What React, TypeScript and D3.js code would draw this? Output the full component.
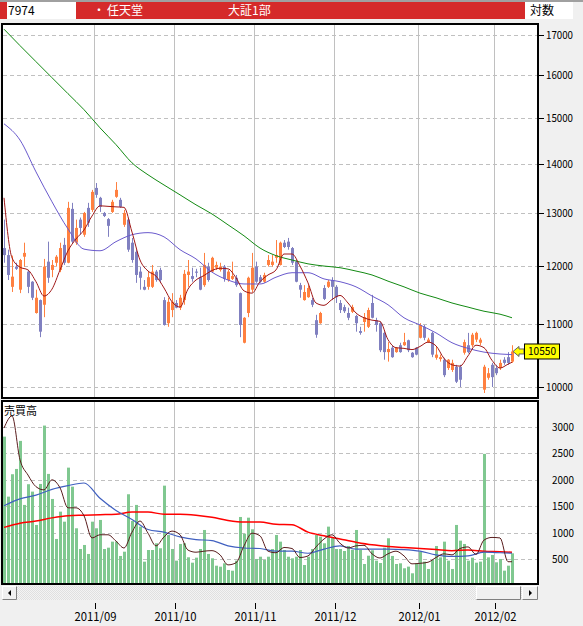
import React from "react";
import * as d3 from "d3";

// 7974 任天堂 日足 2011/08/01 - 2012/02/07
const opens = [
  12330, 12200, 11630, 11990, 11580, 12170, 11900, 11720, 11180, 11400,
  11320, 12080, 11930, 12060, 11930, 12390, 12060, 13080, 12430, 12870,
  12580, 13100, 13060, 13500, 13300, 13000, 12880, 13020, 13320, 13260,
  12770, 12870, 12430, 12260, 11900, 11630, 11630, 11630, 11900, 11930,
  11400, 11010, 11230, 11350, 11270, 11400, 11840, 11820, 11900, 11800,
  11660, 11990, 11900, 11970, 11930, 11990, 11750, 11770, 11790, 11520,
  10690, 11180, 11580, 11990, 11800, 11720, 12020, 12020, 12150, 12020,
  12430, 12450, 12330, 12080, 11660, 11400, 11450, 11400, 11060, 11010,
  11610, 11630, 11750, 11630, 11350, 11280, 11180, 11200, 11130, 10880,
  11030, 10950, 11350, 11060, 11010, 10850, 10540, 10610, 10540, 10650,
  10650, 10730, 10530, 10610, 10770, 10950, 10700, 10850, 10450, 10430,
  10420, 10290, 10260, 10310, 10310, 10530, 10650, 10650, 10740, 10690,
  9960, 10140, 10340, 10290, 10290, 10420, 10460, 10390,
];
const highs = [
  12870, 12300, 12190, 12060, 12130, 12430, 11930, 11730, 11580, 11410,
  12130, 12450, 12110, 12200, 12430, 12520, 13220, 13200, 12870, 12910,
  13020, 13200, 13460, 13600, 13320, 13020, 12900, 13260, 13620, 13300,
  13060, 12880, 12520, 12300, 11990, 11750, 11900, 12020, 11930, 11970,
  11450, 11440, 11520, 11400, 11490, 11930, 12110, 11970, 11950, 11970,
  12240, 12060, 12170, 12080, 12060, 12020, 11930, 12080, 11840, 11530,
  11110, 11810, 12240, 12080, 11840, 11880, 12200, 12200, 12480, 12450,
  12480, 12520, 12350, 12110, 11700, 11660, 11660, 11440, 11150, 11200,
  11660, 11750, 11800, 11660, 11400, 11320, 11270, 11320, 11150, 10950,
  11180, 11270, 11490, 11100, 11030, 10870, 10700, 10640, 10620, 10690,
  10850, 10740, 10540, 10620, 11010, 10980, 10770, 10870, 10620, 10500,
  10450, 10430, 10420, 10340, 10340, 10740, 10850, 10850, 10870, 10770,
  10340, 10290, 10370, 10340, 10420, 10460, 10540, 10650,
];
const lows = [
  12060, 11750, 11540, 11930, 11520, 11990, 11520, 11400, 11170, 10780,
  11110, 11700, 11800, 11990, 11890, 12020, 12050, 12420, 12390, 12580,
  12540, 12730, 13020, 13300, 13020, 12920, 12540, 13000, 13300, 13100,
  12730, 12260, 12060, 11700, 11580, 11570, 11580, 11610, 11720, 11700,
  10970, 10950, 11110, 11260, 11230, 11320, 11630, 11720, 11800, 11570,
  11630, 11720, 11880, 11930, 11900, 11720, 11720, 11750, 11630, 10780,
  10680, 11110, 11540, 11700, 11700, 11700, 11990, 11990, 12060, 12010,
  12330, 12300, 12020, 11710, 11440, 11390, 11440, 11280, 10770, 11000,
  11400, 11610, 11400, 11350, 11180, 11180, 11060, 11180, 10870, 10820,
  10870, 10930, 11090, 10870, 10540, 10420, 10390, 10450, 10530, 10530,
  10640, 10540, 10450, 10490, 10760, 10730, 10690, 10460, 10420, 10390,
  10150, 10260, 10230, 10060, 10000, 10500, 10520, 10620, 10700, 10650,
  9910, 10110, 10000, 10180, 10260, 10340, 10340, 10370,
];
const closes = [
  12200, 11840, 11810, 11950, 12110, 12240, 11630, 11440, 11440, 10870,
  11990, 11790, 12020, 12170, 12330, 12060, 13100, 12450, 12710, 12710,
  13000, 12810, 13420, 13360, 13120, 12940, 12750, 13220, 13460, 13120,
  13000, 12300, 12110, 11840, 11790, 11580, 11800, 11900, 11750, 11750,
  10980, 11370, 11370, 11270, 11440, 11860, 11900, 11770, 11880, 11580,
  12020, 11750, 12150, 12020, 11990, 11770, 11900, 11820, 11660, 10980,
  11100, 11790, 11970, 11720, 11720, 11840, 12110, 12080, 12200, 12430,
  12350, 12350, 12060, 11720, 11580, 11540, 11610, 11320, 10820, 11180,
  11420, 11720, 11630, 11450, 11230, 11210, 11100, 11280, 11010, 10850,
  11110, 11230, 11100, 10980, 10570, 10540, 10590, 10460, 10610, 10540,
  10700, 10570, 10460, 10500, 10980, 10770, 10740, 10500, 10500, 10460,
  10180, 10420, 10370, 10080, 10110, 10700, 10540, 10820, 10850, 10740,
  10310, 10210, 10150, 10210, 10370, 10370, 10370, 10550,
];
const volumes = [
  2818, 1682, 2106, 2206, 2737, 1525, 1917, 1777, 1146, 1922,
  3027, 2112, 1638, 881, 1398, 1208, 2231, 1871, 1083, 691,
  767, 597, 1208, 1083, 1241, 691, 716, 830, 830, 559,
  640, 1727, 1222, 1525, 1114, 451, 672, 672, 799, 705,
  1890, 956, 691, 470, 786, 800, 534, 432, 527, 691,
  1051, 597, 515, 375, 356, 420, 294, 280, 470, 1297,
  981, 1284, 1064, 502, 545, 483, 545, 691, 956, 830,
  672, 545, 515, 545, 672, 388, 545, 691, 956, 924,
  799, 1114, 905, 691, 691, 653, 748, 678, 1051, 672,
  407, 564, 667, 470, 426, 716, 894, 559, 407, 420,
  326, 357, 231, 420, 641, 452, 313, 483, 748, 533,
  830, 470, 313, 1146, 849, 786, 470, 527, 432, 452,
  2491, 533, 578, 439, 502, 281, 375, 609,
];

// moving averages as drawn (short: every 2nd day, mid/long: every 4th day, plus the last day)
const priceMaShort = [
  13300, 12150, 11980, 11930, 11720, 11470, 11590, 11930, 12280, 12500,
  12670, 12940, 13140, 13130, 13120, 13110, 12630, 12110, 11910, 11820,
  11610, 11370, 11280, 11590, 11750, 11830, 11920, 11960, 11950, 11790,
  11560, 11520, 11720, 11840, 11930, 12220, 12220, 12000, 11700, 11350,
  11310, 11410, 11480, 11350, 11180, 11100, 11060, 11040, 10740, 10610,
  10600, 10580, 10630, 10700, 10640, 10440, 10340, 10320, 10480, 10650,
  10610, 10410, 10290, 10350, 10380,
];
const priceMaMid = [
  14870, 14510, 13830, 13220, 12690, 12310, 12280, 12450, 12580, 12620,
  12540, 12300, 12130, 11890, 11750, 11680, 11680, 11800, 11880, 11880,
  11770, 11720, 11630, 11470, 11320, 11100, 10980, 10850, 10690, 10600,
  10540, 10510, 10500,
];
const priceMaLong = [
  17150, 16730, 16330, 15940, 15560, 15190, 14780, 14410, 14020, 13770,
  13560, 13360, 13160, 12980, 12770, 12560, 12330, 12190, 12110, 12040,
  12000, 11970, 11910, 11840, 11730, 11630, 11520, 11440, 11350, 11280,
  11210, 11160, 11100,
];
const volMaShort = [
  2980, 3210, 2380, 2090, 1870, 1810, 2000, 1850, 1470, 1470,
  1320, 900, 960, 960, 840, 710, 1010, 1220, 990, 750,
  920, 1030, 960, 670, 630, 650, 660, 580, 390, 430,
  750, 990, 940, 650, 620, 720, 700, 530, 560, 730,
  880, 960, 800, 710, 750, 760, 600, 520, 600, 650,
  560, 410, 420, 440, 530, 600, 580, 700, 730, 590,
  860, 910, 900, 450, 450,
];
const volMaMid = [
  1510, 1640, 1710, 1820, 1890, 1940, 1650, 1420, 1250, 1060,
  1010, 920, 870, 850, 750, 710, 700, 650, 650, 610,
  690, 750, 690, 690, 690, 680, 650, 580, 550, 560,
  630, 620, 610,
];
const volMaLong = [
  1100, 1180, 1220, 1280, 1320, 1330, 1340, 1350, 1390, 1390,
  1350, 1350, 1330, 1290, 1230, 1200, 1200, 1160, 1150, 1010,
  940, 880, 820, 770, 740, 720, 700, 680, 660, 670,
  650, 640, 630,
];

const monthStarts = [23, 43, 63, 83, 104, 123];
const monthLabels = ["2011/09", "2011/10", "2011/11", "2011/12", "2012/01", "2012/02"];
const priceTicks = [10000, 11000, 12000, 13000, 14000, 15000, 16000, 17000];
const volumeTicks = [500, 1000, 1500, 2000, 2500, 3000];

const N = closes.length;
const shortIdx = [...d3.range(0, N - 1, 2), N - 1];
const longIdx = [...d3.range(0, N - 1, 4), N - 1];

const UP = "#ff8040";
const DOWN = "#8080c0";
const font = "'Noto Sans CJK JP', 'Noto Sans', sans-serif";

export default function App() {
  const x = d3.scaleLinear().domain([0, N - 1]).range([4, 512]);
  const yP = d3.scaleLog().domain([10000, 17000]).range([387, 35]);
  const yV = d3.scaleLinear().domain([0, 3000]).range([585.5, 427]);

  const maLine = (idx: number[], y: (v: number) => number) =>
    d3.line<number>()
      .x((_, k) => x(idx[k]))
      .y(v => y(v))
      .curve(d3.curveMonotoneX);

  const gridX = monthStarts.map(i => Math.round(x(i)) - 2 + 0.5);
  const last = closes[N - 1];
  const tagY = yP(last);

  return (
    <svg width={583} height={626} style={{ position: "absolute", left: 0, top: 0 }}
      fontFamily={font}>
      <defs>
        <clipPath id="pclip"><rect x={3} y={25} width={534} height={372} /></clipPath>
        <clipPath id="vclip"><rect x={3} y={402} width={534} height={182} /></clipPath>
        <pattern id="dots" width={2} height={2} patternUnits="userSpaceOnUse">
          <rect width={2} height={2} fill="#f4f4f4" />
          <rect width={1} height={1} fill="#e0e0e0" />
          <rect x={1} y={1} width={1} height={1} fill="#e0e0e0" />
        </pattern>
      </defs>
      <rect width={583} height={626} fill="#f0f0f0" />
      <rect width={583} height={2} fill="#a0a0a0" />

      {/* header */}
      <rect x={0} y={2} width={7} height={17} fill="#d52a2a" />
      <rect x={7} y={2} width={69} height={17} fill="#ffffff" />
      <rect x={76} y={2} width={449} height={17} fill="#d52a2a" />
      <rect x={525} y={2} width={48} height={17} fill="#ffffff" />
      <text x={8} y={15} fontSize={12} fill="#000">7974</text>
      <text x={93} y={15} fontSize={12} fill="#fff">・</text>
      <text x={107} y={15} fontSize={12} fill="#fff">任天堂</text>
      <text x={228} y={15} fontSize={12} fill="#fff">大証1部</text>
      <text x={530} y={15} fontSize={12} fill="#000">対数</text>

      {/* price panel */}
      <rect x={2} y={24} width={536} height={374} fill="#fff" />
      {gridX.map((gx, k) => (
        <line key={k} x1={gx} x2={gx} y1={25} y2={397} stroke="#c0c0c0" />
      ))}
      {priceTicks.map(t => (
        <line key={t} x1={3} x2={537} y1={Math.round(yP(t)) + 0.5} y2={Math.round(yP(t)) + 0.5}
          stroke="#c0c0c0" strokeDasharray="4 3" />
      ))}
      <g clipPath="url(#pclip)">
        {closes.map((c, i) => {
          const o = opens[i];
          const col = c >= o ? UP : DOWN;
          const cx = Math.round(x(i));
          const top = yP(Math.max(o, c));
          const bot = yP(Math.min(o, c));
          return (
            <g key={i}>
              <line x1={cx + 0.5} x2={cx + 0.5} y1={yP(highs[i])} y2={yP(lows[i])} stroke={col} />
              <rect x={cx - 1} y={top} width={3} height={Math.max(1, bot - top)} fill={col} />
            </g>
          );
        })}
        <path d={maLine(longIdx, yP)(priceMaLong) ?? ""} fill="none" stroke="#138a13" />
        <path d={maLine(longIdx, yP)(priceMaMid) ?? ""} fill="none" stroke="#6a5acd" />
        <path d={maLine(shortIdx, yP)(priceMaShort) ?? ""} fill="none" stroke="#a01818" />
      </g>
      <rect x={2} y={24} width={536} height={374} fill="none" stroke="#000" strokeWidth={2} />
      {priceTicks.map(t => (
        <g key={t}>
          <line x1={539} x2={544} y1={Math.round(yP(t)) + 0.5} y2={Math.round(yP(t)) + 0.5} stroke="#000" />
          <text x={546} y={yP(t)} dy="0.36em" fontSize={11} textLength={27}
            lengthAdjust="spacingAndGlyphs" fill="#000">{t}</text>
        </g>
      ))}

      {/* volume panel */}
      <rect x={2} y={401} width={536} height={183} fill="#fff" />
      {gridX.map((gx, k) => (
        <line key={k} x1={gx} x2={gx} y1={402} y2={583} stroke="#c0c0c0" />
      ))}
      {volumeTicks.map(t => (
        <line key={t} x1={3} x2={537} y1={Math.round(yV(t)) + 0.5} y2={Math.round(yV(t)) + 0.5}
          stroke="#c0c0c0" strokeDasharray="4 3" />
      ))}
      <g clipPath="url(#vclip)">
        {volumes.map((v, i) => (
          <rect key={i} x={Math.round(x(i)) - 1} y={yV(v)} width={3} height={yV(0) - yV(v)} fill="#80c890" />
        ))}
        <path d={maLine(longIdx, yV)(volMaLong) ?? ""} fill="none" stroke="#ff0000" strokeWidth={1.5} />
        <path d={maLine(longIdx, yV)(volMaMid) ?? ""} fill="none" stroke="#4060c0" strokeWidth={1.2} />
        <path d={maLine(shortIdx, yV)(volMaShort) ?? ""} fill="none" stroke="#5a1e1e" />
      </g>
      <text x={4} y={415} fontSize={11} fill="#000">売買高</text>
      <rect x={2} y={401} width={536} height={183} fill="none" stroke="#000" strokeWidth={2} />
      {volumeTicks.map(t => (
        <text key={t} x={552} y={yV(t)} dy="0.36em" fontSize={11}
          textLength={String(t).length * 5.5} lengthAdjust="spacingAndGlyphs" fill="#000">{t}</text>
      ))}

      {/* scrollbar */}
      <rect x={2} y={586} width={536} height={14} fill="url(#dots)" />
      {[[2, 15], [476, 45], [522, 16]].map(([bx, bw], k) => (
        <g key={k}>
          <rect x={bx} y={586} width={bw} height={14} fill="#f0f0f0" />
          <path d={`M${bx + 0.5},599.5 V586.5 H${bx + bw - 0.5}`} fill="none" stroke="#fff" />
          <path d={`M${bx + 0.5},599.5 H${bx + bw - 0.5} V586.5`} fill="none" stroke="#808080" />
        </g>
      ))}
      <path d="M8,593 L11,590 L11,596 Z" fill="#000" />
      <path d="M532,593 L529,590 L529,596 Z" fill="#000" />

      {/* date axis */}
      {gridX.map((gx, k) => (
        <g key={k}>
          <line x1={gx + 1} x2={gx + 1} y1={603} y2={609} stroke="#000" />
          <text x={gx + 1} y={621} fontSize={12} textAnchor="middle" textLength={42}
            lengthAdjust="spacingAndGlyphs" fill="#000">{monthLabels[k]}</text>
        </g>
      ))}

      {/* last price tag */}
      <path d={`M513,${tagY} L519,${tagY - 5} L519,${tagY - 2.5} L524,${tagY - 2.5} L524,${tagY + 2.5} L519,${tagY + 2.5} L519,${tagY + 5} Z`}
        fill="#ffff00" stroke="#606060" />
      <rect x={524.5} y={tagY - 7.5} width={35} height={15} fill="#ffff00" stroke="#000" />
      <text x={542} y={tagY} dy="0.36em" fontSize={11} textAnchor="middle" textLength={28}
        lengthAdjust="spacingAndGlyphs" fill="#000">{last}</text>
    </svg>
  );
}
